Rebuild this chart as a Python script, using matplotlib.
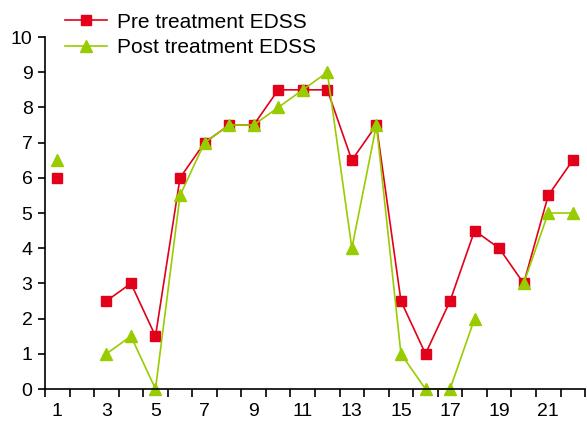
import numpy as np
import matplotlib
matplotlib.use("Agg")
import matplotlib.pyplot as plt

plt.rcParams["font.family"] = ["Liberation Sans", "DejaVu Sans"]

# patient number 1..22, None where no score was recorded
patients = list(range(1, 23))
pre_edss = [6, None, 2.5, 3, 1.5, 6, 7, 7.5, 7.5, 8.5, 8.5, 8.5, 6.5, 7.5, 2.5, 1, 2.5, 4.5, 4, 3, 5.5, 6.5]
post_edss = [6.5, None, 1, 1.5, 0, 5.5, 7, 7.5, 7.5, 8, 8.5, 9, 4, 7.5, 1, 0, 0, 2, None, 3, 5, 5]
x_labels = [str(i) for i in range(1, 22, 2)]

red = "#E2001A"
green = "#99CC00"

pre = np.array([np.nan if v is None else v for v in pre_edss], dtype=float)
post = np.array([np.nan if v is None else v for v in post_edss], dtype=float)

fig = plt.figure(figsize=(5.87, 4.21), dpi=100)
ax = fig.add_axes([0.0767, 0.076, 0.92, 0.836])

ax.plot(patients, pre, color=red, lw=1.2, marker="s", ms=6.5, mec=red,
        label="Pre treatment EDSS", clip_on=False)
ax.plot(patients, post, color=green, lw=1.2, marker="^", ms=8, mec=green,
        label="Post treatment EDSS", clip_on=False)

ax.set_xlim(0.5, 22.5)
ax.set_ylim(0, 10)
ax.set_yticks(range(0, 11))
ax.set_xticks(np.arange(0.5, 23, 1))
ax.set_xticklabels([])
ax.set_xticks(range(1, 22, 2), minor=True)
ax.set_xticklabels(x_labels, minor=True)
ax.tick_params(axis="x", which="major", length=6, width=1.2)
ax.tick_params(axis="x", which="minor", length=0, pad=10, labelsize=14)
ax.tick_params(axis="y", length=5, width=1.2, labelsize=14, pad=4)

for side in ["top", "right"]:
    ax.spines[side].set_visible(False)
for side in ["left", "bottom"]:
    ax.spines[side].set_linewidth(1.2)

fig.legend(loc="upper left", bbox_to_anchor=(0.09, 1.0), frameon=False,
           fontsize=15, handlelength=2.0, handletextpad=0.5, labelspacing=0.33,
           borderaxespad=0.2)

fig.savefig("out.png", dpi=100)
